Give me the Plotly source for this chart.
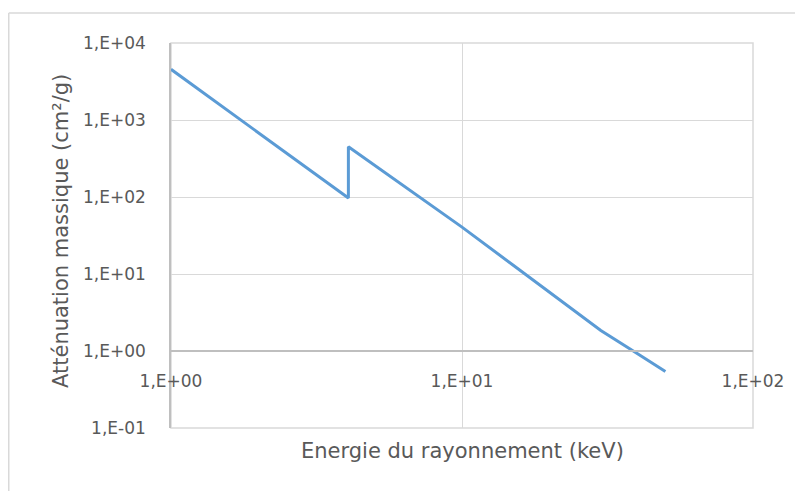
import plotly.graph_objects as go

energie_kev = [1, 1.5, 2, 3, 4.07, 4.07, 5, 6, 8, 10, 15, 20, 30, 40, 50]
attenuation = [4550, 1500, 680, 225, 97, 450, 259, 159, 73.5, 40.6, 13.0, 5.8, 1.85, 0.93, 0.54]

x_tickvals = [1, 10, 100]
x_ticktext = ["1,E+00", "1,E+01", "1,E+02"]
y_tickvals = [0.1, 1, 10, 100, 1000, 10000]
y_ticktext = ["1,E-01", "1,E+00", "1,E+01", "1,E+02", "1,E+03", "1,E+04"]

x_title = "Energie du rayonnement (keV)"
y_title = "Atténuation massique (cm²/g)"

FONT = "DejaVu Sans"
TXT = "#595959"
GRID = "#D9D9D9"

# figure is placed at (8, 8) in the page (body margin)
W, H = 795, 483
L, T, PW, PH = 163, 35, 582, 385

def px(x):
    return (x - L) / PW

def py(y):
    return (T + PH - y) / PH

fig = go.Figure()
fig.add_trace(go.Scatter(
    x=energie_kev, y=attenuation, mode="lines",
    line=dict(color="#5B9BD5", width=3), showlegend=False,
))

fig.update_layout(
    width=W, height=H,
    margin=dict(l=L, r=W - L - PW, t=T, b=H - T - PH),
    paper_bgcolor="white", plot_bgcolor="white",
    font=dict(family=FONT, color=TXT, size=17),
    xaxis=dict(
        type="log", range=[0, 2],
        tickvals=x_tickvals, ticktext=x_ticktext,
        showgrid=True, gridcolor=GRID, gridwidth=1,
        showline=True, linecolor="#BFBFBF", linewidth=1.5,
        anchor="free", position=0.2,
        ticks="outside", ticklen=15, tickcolor="rgba(0,0,0,0)",
        tickfont=dict(family=FONT, color=TXT, size=17),
        zeroline=False,
    ),
    yaxis=dict(
        type="log", range=[-1, 4],
        tickvals=y_tickvals, ticktext=y_ticktext,
        showgrid=True, gridcolor=GRID, gridwidth=1,
        showline=True, linecolor="#BFBFBF", linewidth=1.5,
        ticks="outside", ticklen=20, tickcolor="rgba(0,0,0,0)",
        tickfont=dict(family=FONT, color=TXT, size=17),
        zeroline=False,
    ),
    annotations=[
        dict(text=x_title, xref="paper", yref="paper",
             x=px(454), y=py(443),
             xanchor="center", yanchor="middle", showarrow=False,
             font=dict(family=FONT, color=TXT, size=21)),
        dict(text=y_title, xref="paper", yref="paper",
             x=px(53), y=py(223), textangle=-90,
             xanchor="center", yanchor="middle", showarrow=False,
             font=dict(family=FONT, color=TXT, size=21)),
    ],
    shapes=[
        dict(type="rect", xref="paper", yref="paper",
             x0=0, x1=1, y0=0, y1=1, layer="below",
             line=dict(color=GRID, width=1.5)),
        dict(type="line", xref="paper", yref="paper",
             x0=px(0.75), x1=px(W + 5), y0=py(5), y1=py(5),
             line=dict(color=GRID, width=1.5)),
        dict(type="line", xref="paper", yref="paper",
             x0=px(0.75), x1=px(0.75), y0=py(5), y1=py(H + 5),
             line=dict(color=GRID, width=1.5)),
    ],
)

fig.write_html("out.html")
